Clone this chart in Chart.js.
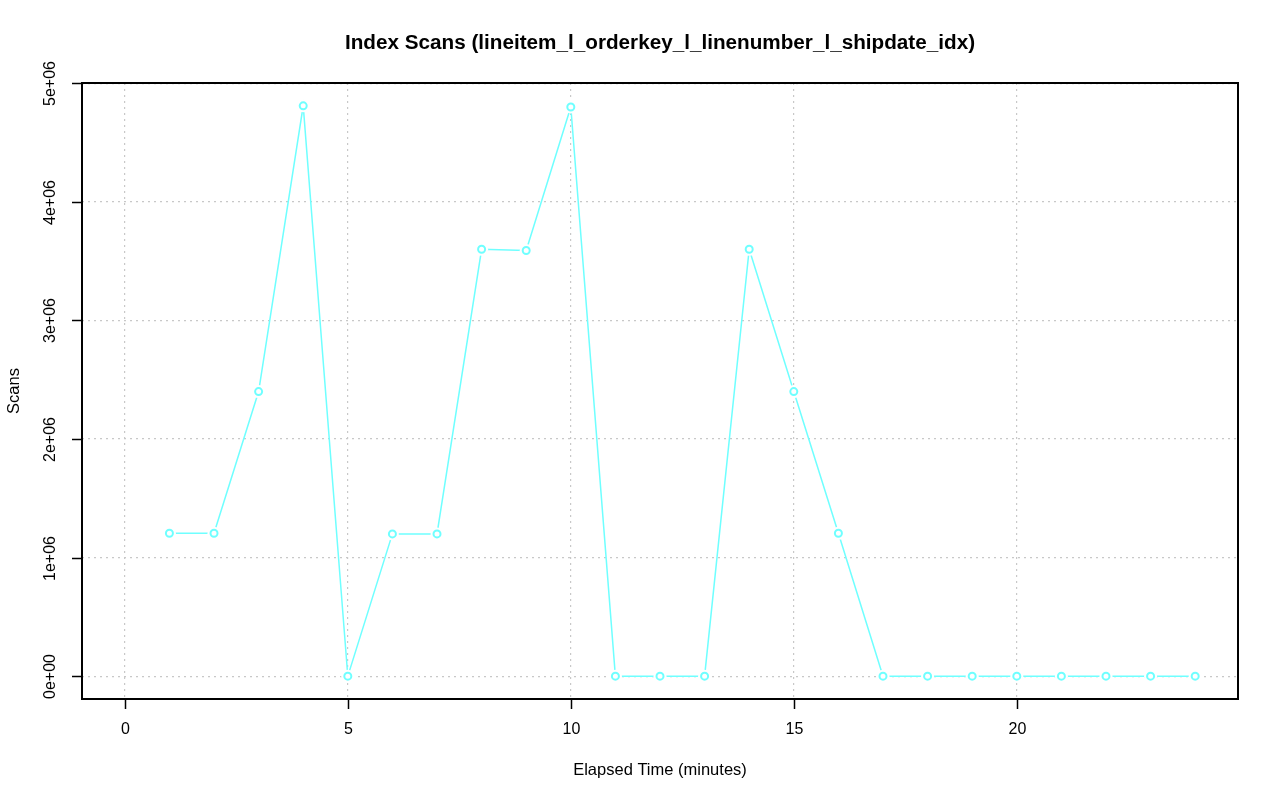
<!doctype html>
<html lang="en">
  <head>
    <meta charset="utf-8">
    <title>Index Scans</title>
    <style>
      * { margin: 0; padding: 0; }
      body { background: #fff; width: 1280px; height: 801px; overflow: hidden; }
      .chartBox { width: 1280px; height: 801px; }
    </style>
  </head>
  <body>
    <div class="chartBox">
      <canvas id="myChart" width="1280" height="801"></canvas>
    </div>
    <script src="https://cdn.jsdelivr.net/npm/chart.js"></script>
    <script>
    // data
    const minutes = [1, 2, 3, 4, 5, 6, 7, 8, 9, 10, 11, 12, 13, 14, 15, 16, 17, 18, 19, 20, 21, 22, 23, 24];
    const scans = [1205000, 1205000, 2400000, 4810000, 0, 1200000, 1200000, 3600000, 3590000, 4800000,
                   0, 0, 0, 3600000, 2400000, 1205000, 0, 0, 0, 0, 0, 0, 0, 0];
    const xTicks = [0, 5, 10, 15, 20];
    const yTicks = [0, 1e6, 2e6, 3e6, 4e6, 5e6];
    const yTickLabels = ['0e+00', '1e+06', '2e+06', '3e+06', '4e+06', '5e+06'];

    const points = minutes.map((m, i) => ({ x: m, y: scans[i] }));
    const lineColor = '#6FFFFF';
    const font = '"Liberation Sans", Arial, sans-serif';

    // R-style axes, box, labels
    const rAxes = {
      id: 'rAxes',
      afterDraw(chart) {
        const ctx = chart.ctx;
        const a = chart.chartArea;
        const xs = chart.scales.x, ys = chart.scales.y;
        ctx.save();
        ctx.strokeStyle = '#000';
        ctx.lineWidth = 2;
        ctx.strokeRect(a.left, a.top, a.right - a.left, a.bottom - a.top);

        ctx.lineWidth = 1.5;
        ctx.fillStyle = '#000';
        ctx.font = '16px ' + font;
        // x ticks
        ctx.textAlign = 'center';
        ctx.textBaseline = 'middle';
        xTicks.forEach(t => {
          const px = Math.round(xs.getPixelForValue(t)) + 0.5;
          ctx.beginPath();
          ctx.moveTo(px, a.bottom);
          ctx.lineTo(px, a.bottom + 10);
          ctx.stroke();
          ctx.fillText(String(t), px, a.bottom + 31);
        });
        // y ticks
        yTicks.forEach((t, i) => {
          const py = Math.round(ys.getPixelForValue(t)) + 0.5;
          ctx.beginPath();
          ctx.moveTo(a.left, py);
          ctx.lineTo(a.left - 10, py);
          ctx.stroke();
          ctx.save();
          ctx.translate(a.left - 31, py);
          ctx.rotate(-Math.PI / 2);
          ctx.fillText(yTickLabels[i], 0, 0);
          ctx.restore();
        });
        // axis titles
        ctx.font = '16.5px ' + font;
        ctx.fillText('Elapsed Time (minutes)', (a.left + a.right) / 2, 770);
        ctx.save();
        ctx.translate(14, (a.top + a.bottom) / 2);
        ctx.rotate(-Math.PI / 2);
        ctx.fillText('Scans', 0, 0);
        ctx.restore();
        // title
        ctx.font = 'bold 20.7px ' + font;
        ctx.fillText('Index Scans (lineitem_l_orderkey_l_linenumber_l_shipdate_idx)', (a.left + a.right) / 2, 43);
        ctx.restore();
      }
    };

    const config = {
      type: 'scatter',
      data: {
        datasets: [
          {
            // connecting line
            data: points,
            showLine: true,
            borderColor: lineColor,
            borderWidth: 1.5,
            pointRadius: 0,
            order: 3
          },
          {
            // white halo to make gaps like type="b"
            data: points,
            showLine: false,
            pointRadius: 6.5,
            pointBorderWidth: 0,
            pointBackgroundColor: '#fff',
            pointBorderColor: '#fff',
            order: 2
          },
          {
            data: points,
            showLine: false,
            pointRadius: 3.5,
            pointBorderWidth: 2,
            pointBorderColor: lineColor,
            pointBackgroundColor: 'rgba(0,0,0,0)',
            order: 1
          }
        ]
      },
      options: {
        responsive: false,
        animation: false,
        layout: { padding: { top: 83, right: 42, left: 0, bottom: 0 } },
        plugins: { legend: { display: false }, tooltip: { enabled: false }, title: { display: false } },
        scales: {
          x: {
            type: 'linear',
            min: -0.96,
            max: 24.96,
            afterFit: s => { s.height = 102; },
            afterBuildTicks: s => { s.ticks = xTicks.map(v => ({ value: v })); },
            ticks: { display: false },
            border: { display: false, dash: [2, 4] },
            grid: { color: '#C8C8C8', lineWidth: 1.2, drawTicks: false }
          },
          y: {
            type: 'linear',
            min: -192400,
            max: 5002400,
            afterFit: s => { s.width = 82; },
            afterBuildTicks: s => { s.ticks = yTicks.map(v => ({ value: v })); },
            ticks: { display: false },
            border: { display: false, dash: [2, 4] },
            grid: { color: '#C8C8C8', lineWidth: 1.2, drawTicks: false }
          }
        }
      },
      plugins: [rAxes]
    };

    const myChart = new Chart(document.getElementById('myChart'), config);
    </script>
  </body>
</html>
